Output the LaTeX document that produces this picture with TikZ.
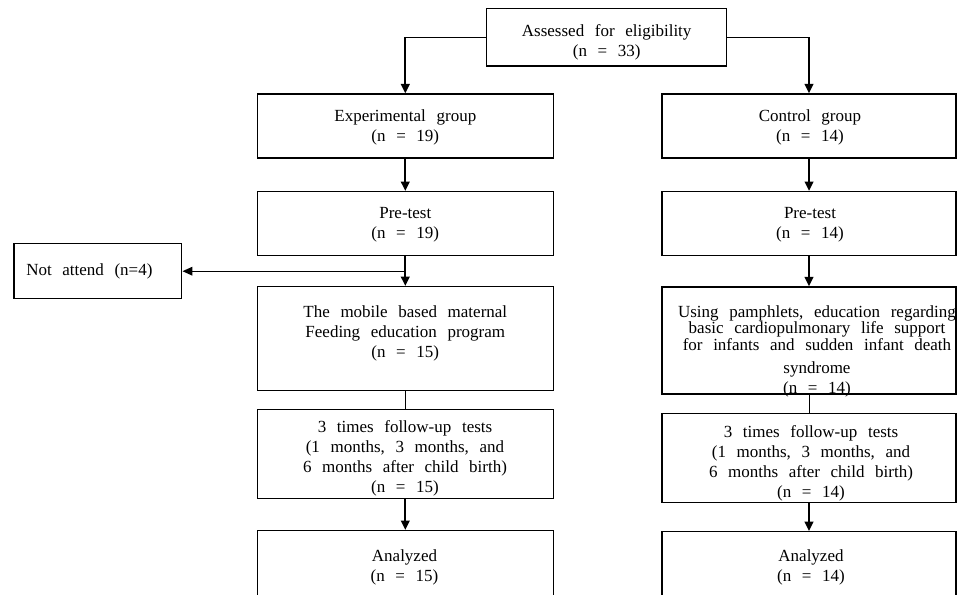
\documentclass[tikz,border=0pt]{standalone}
\usepackage{fontspec}
\setmainfont{Liberation Serif}[WordSpace=2.5]
\usetikzlibrary{arrows.meta,calc}
\newcommand\diagfont{\fontsize{12.75pt}{15pt}\selectfont}
\begin{document}
\begin{tikzpicture}[x=0.75pt,y=-0.75pt,
  box/.style={draw, line width=1.1pt, inner sep=0pt, rectangle},
  txt/.style={align=center, inner sep=0pt, font=\diagfont},
  thinline/.style={line width=0.7pt},
  arr/.style={line width=1.4pt, -{Triangle[width=6.5pt,length=7pt]}},
  harr/.style={line width=1pt, -{Triangle[width=6.5pt,length=7.5pt]}}
]
\fill[white] (0,0) rectangle (957,594);
\path[use as bounding box, clip] (0,0) rectangle (957,594);

% boxes
\node[box, minimum width=180pt, minimum height=43.3pt] (assess) at (606.7,37.2) {};
\node[box, minimum width=222pt, minimum height=48pt] (exp) at (405.3,126) {};
\node[box, minimum width=220.5pt, minimum height=48pt] (ctrl) at (809,126) {};
\node[box, minimum width=222pt, minimum height=48pt] (pre1) at (405.3,223.7) {};
\node[box, minimum width=220.5pt, minimum height=48pt] (pre2) at (809,223.6) {};
\node[box, minimum width=125.8pt, minimum height=41.25pt] (notatt) at (97.85,270.8) {};
\node[box, minimum width=222pt, minimum height=78pt] (mobile) at (405.3,338.7) {};
\node[box, minimum width=220.5pt, minimum height=80.25pt] (pamph) at (809,340.5) {};
\node[box, minimum width=222pt, minimum height=66.75pt] (fu1) at (405.3,453.8) {};
\node[box, minimum width=220.5pt, minimum height=66.75pt] (fu2) at (809,457.8) {};
\node[box, minimum width=222pt, minimum height=67pt] (an1) at (405.3,575.35) {};
\node[box, minimum width=220.5pt, minimum height=67pt] (an2) at (809,576.35) {};

% texts
\node[txt] (assessT) at (606.7,42) {Assessed for eligibility\\(n = 33)};
\node[txt] (expT) at (405.3,127.5) {Experimental group\\(n = 19)};
\node[txt] (ctrlT) at (810,127.5) {Control group\\(n = 14)};
\node[txt] (pre1T) at (405.3,224.5) {Pre-test\\(n = 19)};
\node[txt] (pre2T) at (810,224.5) {Pre-test\\(n = 14)};
\node[txt, anchor=west] (notT) at (26,271) {Not attend (n=4)};
\node[txt] (mobileT) at (405.3,333.5) {The mobile based maternal\\Feeding education program\\(n = 15)};
\node[txt] (pamphT) at (817,351) {Using pamphlets, education regarding\\[-3pt]basic cardiopulmonary life support\\[-2.25pt]for infants and sudden infant death\\[2.25pt]syndrome\\(n = 14)};
\node[txt] (fu1T) at (405,458) {3 times follow-up tests\\(1 months, 3 months, and\\6 months after child birth)\\(n = 15)};
\node[txt] (fu2T) at (811,463.5) {3 times follow-up tests\\(1 months, 3 months, and\\6 months after child birth)\\(n = 14)};
\node[txt] (an1T) at (404.5,567) {Analyzed\\(n = 15)};
\node[txt] (an2T) at (811,567.5) {Analyzed\\(n = 14)};

% connectors
\coordinate (lc) at (assess.west -| exp.north);
\coordinate (rc) at (assess.east -| ctrl.north);
\draw[thinline] (assess.west) -- (lc);
\draw[arr] (lc) -- (exp.north);
\draw[thinline] (assess.east) -- (rc);
\draw[arr] (rc) -- (ctrl.north);
\draw[arr] (exp.south) -- (pre1.north);
\draw[arr] (ctrl.south) -- (pre2.north);
\draw[arr] (pre1.south) -- (mobile.north);
\coordinate (split) at ($(pre1.south)!0.5!(mobile.north)$);
\draw[harr] (split) -- (notatt.east |- split);
\draw[arr] (pre2.south) -- (pamph.north);
\draw[thinline] (mobile.south) -- (fu1.north);
\draw[thinline] (pamph.south) -- (fu2.north);
\draw[arr] (fu1.south) -- (an1.north);
\draw[arr] (fu2.south) -- (an2.north);
\end{tikzpicture}
\end{document}
